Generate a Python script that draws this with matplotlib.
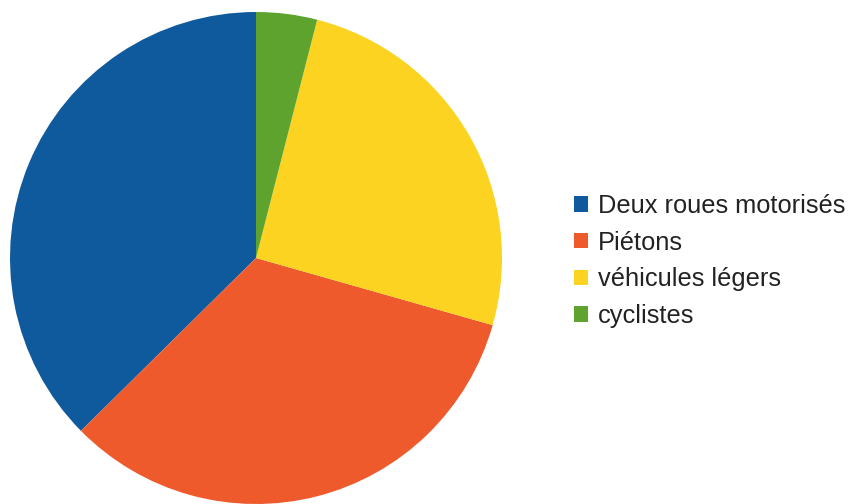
import matplotlib
matplotlib.use("Agg")
import matplotlib.pyplot as plt
from matplotlib.patches import Patch

plt.rcParams['font.family'] = ['Liberation Sans', 'DejaVu Sans']

# data (percent of the pie)
categories = ['Deux roues motorisés', 'Piétons', 'véhicules légers', 'cyclistes']
values = [37.4, 33.2, 25.4, 4.0]
colors = ['#0f5a9c', '#ee5a2c', '#fdd322', '#5da32d']

fig = plt.figure(figsize=(8.52, 5.04), dpi=100)
ax = fig.add_axes([10 / 852, 0.0, 492 / 852, 492 / 504])
ax.pie(values, colors=colors, startangle=90, counterclock=True,
       wedgeprops=dict(linewidth=0))
ax.set_xlim(-1, 1)
ax.set_ylim(-1, 1)
ax.set_aspect('equal')
ax.axis('off')

handles = [Patch(facecolor=c, edgecolor='none') for c in colors]
fig.legend(handles, categories, loc='center left',
           bbox_to_anchor=(551 / 852, 1 - 261 / 504), frameon=False,
           fontsize=18.3, handlelength=0.56, handleheight=0.56,
           handletextpad=0.4, labelspacing=0.5, labelcolor='#222222')

fig.savefig('out.png', dpi=100)
